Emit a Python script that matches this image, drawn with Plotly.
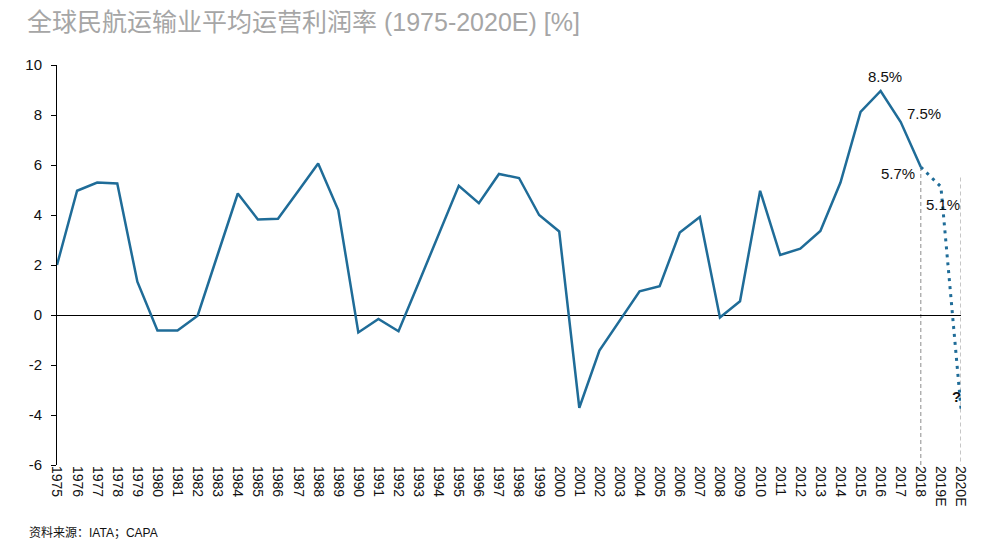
import plotly.graph_objects as go

# ---------------- data ----------------
years = [str(y) for y in range(1975, 2019)] + ["2019E", "2020E"]

actual_years = [str(y) for y in range(1975, 2019)]
actual_margin = [
    2.00, 4.97, 5.30, 5.26, 1.33, -0.62, -0.62, -0.03, 2.42, 4.86,   # 1975-1984
    3.82, 3.85, 4.95, 6.06, 4.20, -0.70, -0.16, -0.65, 1.28, 3.22,   # 1985-1994
    5.17, 4.47, 5.64, 5.48, 4.00, 3.34, -3.71, -1.42, -0.23, 0.95,   # 1995-2004
    1.15, 3.30, 3.92, -0.10, 0.55, 4.97, 2.40, 2.65, 3.36, 5.30,     # 2005-2014
    8.12, 8.96, 7.72, 5.92,                                          # 2015-2018
]

forecast_years = ["2018", "2019E", "2020E"]
forecast_margin = [5.92, 5.13, -3.75]

label_years = ["2016", "2017", "2018", "2019E", "2020E"]
label_texts = ["8.5%", "7.5%", "5.7%", "5.1%", "?"]

bracket_years = ["2018", "2020E"]
bracket_tops = [5.92, 5.5]

y_ticks = [-6, -4, -2, 0, 2, 4, 6, 8, 10]
y_tick_labels = ["-6", "-4", "-2", "0", "2", "4", "6", "8", "10"]

title_text = "全球民航运输业平均运营利润率 (1975-2020E) [%]"
source_text = "资料来源：IATA；CAPA"

# ---------------- styles ----------------
LINE_COLOR = "#1f6c98"
LATIN = "Liberation Sans, Arial, sans-serif"
TITLE_FONT = "Liberation Sans Narrow, Liberation Sans, Noto Sans CJK SC, sans-serif"
Y_MIN, Y_MAX = -6, 10
PAGE_OFFSET = 8  # default page body margin

idx = {c: i for i, c in enumerate(years)}

fig = go.Figure()

fig.add_trace(go.Scatter(
    x=[idx[c] for c in actual_years], y=actual_margin, mode="lines",
    line=dict(color=LINE_COLOR, width=2.5), hoverinfo="skip", showlegend=False,
))
fig.add_trace(go.Scatter(
    x=[idx[c] for c in forecast_years], y=forecast_margin, mode="lines",
    line=dict(color=LINE_COLOR, width=3, dash="3px,5px"), hoverinfo="skip", showlegend=False,
))

# dashed forecast brackets
for yr, top in zip(bracket_years, bracket_tops):
    fig.add_shape(type="line", xref="x", yref="y",
                  x0=idx[yr], x1=idx[yr], y0=top, y1=Y_MIN,
                  line=dict(color="#8c8c8c", width=1, dash="4px,3px"), layer="below")

# value labels
all_vals = dict(zip(actual_years, actual_margin))
all_vals.update(dict(zip(forecast_years, forecast_margin)))
shifts = [(4, 15), (23, 9), (-23, -6), (2, -18), (-5, 12)]
for yr, txt, (dx, dy) in zip(label_years, label_texts, shifts):
    fig.add_annotation(x=idx[yr], y=all_vals[yr], xref="x", yref="y",
                       text=("<b>?</b>" if txt == "?" else txt),
                       showarrow=False, xshift=dx, yshift=dy,
                       font=dict(family=LATIN, size=15, color="#111111"))

# source note
fig.add_annotation(x=-0.0332, y=-0.17, xref="paper", yref="paper", xanchor="left", yanchor="middle",
                   text=source_text, showarrow=False,
                   font=dict(family="Liberation Sans, Noto Sans CJK SC, sans-serif", size=12, color="#111111"))

fig.update_layout(
    width=991, height=550,
    margin=dict(l=57 - PAGE_OFFSET, r=30 + PAGE_OFFSET, t=65 - PAGE_OFFSET, b=85 + PAGE_OFFSET),
    paper_bgcolor="white", plot_bgcolor="white",
    title=dict(text=title_text, xref="container", yref="container",
               x=(27 - PAGE_OFFSET) / 991, y=1 - (22 - PAGE_OFFSET) / 550,
               xanchor="left", yanchor="middle",
               font=dict(family=TITLE_FONT, size=25, color="#a6a6a6")),
    showlegend=False,
)

fig.update_xaxes(
    type="linear", range=[0, len(years) - 1],
    tickmode="array", tickvals=list(range(len(years))), ticktext=years,
    tickangle=90, tickfont=dict(family=LATIN, size=14, color="#111111"),
    showgrid=False, zeroline=False, showline=False, ticks="",
)
fig.update_yaxes(
    range=[Y_MIN, Y_MAX], tickmode="array", tickvals=y_ticks, ticktext=y_tick_labels,
    tickfont=dict(family=LATIN, size=15, color="#111111"),
    showgrid=False, showline=True, linecolor="#000000", linewidth=1,
    ticks="outside", ticklen=5, tickcolor="#000000", ticklabelstandoff=6,
    zeroline=True, zerolinecolor="#000000", zerolinewidth=1.2,
)

fig.write_html("out.html")
